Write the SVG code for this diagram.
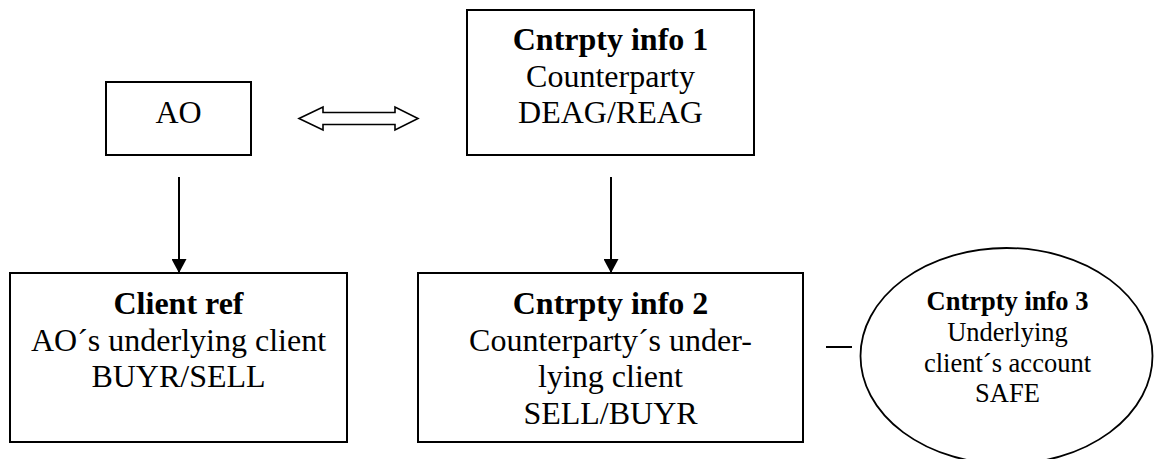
<svg xmlns="http://www.w3.org/2000/svg" width="1155" height="459" viewBox="0 0 1155 459">
<style>
.box{fill:#fff;stroke:#000;stroke-width:2}
.t{font-family:"Liberation Serif","Times New Roman",serif;font-size:32px;fill:#000;text-anchor:middle}
.s{font-family:"Liberation Serif","Times New Roman",serif;font-size:26.5px;fill:#000;text-anchor:middle}
.b{font-weight:bold}
.c{stroke:#000;stroke-width:2;fill:none}
</style>
<defs>
<marker id="ah" viewBox="0 0 14 15" refX="14" refY="7.5" markerWidth="14" markerHeight="15" markerUnits="userSpaceOnUse" orient="auto">
<path d="M0,0 L14,7.5 L0,15 Z" fill="#000"/>
</marker>
</defs>
<rect width="1155" height="459" fill="#fff"/>
<g id="connectors">
<line class="c" x1="179" y1="177" x2="179" y2="273" marker-end="url(#ah)"/>
<line class="c" x1="611" y1="177" x2="611" y2="273" marker-end="url(#ah)"/>
<polygon points="299,118.5 323,107 323,112.5 395,112.5 395,107 418,118.5 395,130 395,124.5 323,124.5 323,130" fill="#fff" stroke="#000" stroke-width="1.6" stroke-linejoin="miter"/>
<line class="c" x1="826" y1="347" x2="852" y2="347"/>
</g>
<g id="ao">
<rect class="box" x="106" y="82" width="145" height="73"/>
<text class="t" x="178.5" y="123">AO</text>
</g>
<g id="cntrpty1">
<rect class="box" x="467" y="10" width="287" height="145"/>
<text class="t b" x="610.5" y="50">Cntrpty info 1</text>
<text class="t" x="610.5" y="87">Counterparty</text>
<text class="t" x="610.5" y="123">DEAG/REAG</text>
</g>
<g id="clientref">
<rect class="box" x="10" y="273" width="337" height="169"/>
<text class="t b" x="178.5" y="314">Client ref</text>
<text class="t" x="178.5" y="350.5">AO´s underlying client</text>
<text class="t" x="178.5" y="387">BUYR/SELL</text>
</g>
<g id="cntrpty2">
<rect class="box" x="418" y="273" width="385" height="169"/>
<text class="t b" x="610.5" y="314">Cntrpty info 2</text>
<text class="t" x="610.5" y="350.5">Counterparty´s under-</text>
<text class="t" x="610.5" y="387">lying client</text>
<text class="t" x="610.5" y="423.5">SELL/BUYR</text>
</g>
<g id="cntrpty3">
<ellipse cx="1006.5" cy="356" rx="146" ry="108" fill="#fff" stroke="#000" stroke-width="1.8"/>
<text class="s b" x="1007.5" y="310">Cntrpty info 3</text>
<text class="s" x="1007.5" y="341">Underlying</text>
<text class="s" x="1007.5" y="371.5">client´s account</text>
<text class="s" x="1007.5" y="402">SAFE</text>
</g>
</svg>
